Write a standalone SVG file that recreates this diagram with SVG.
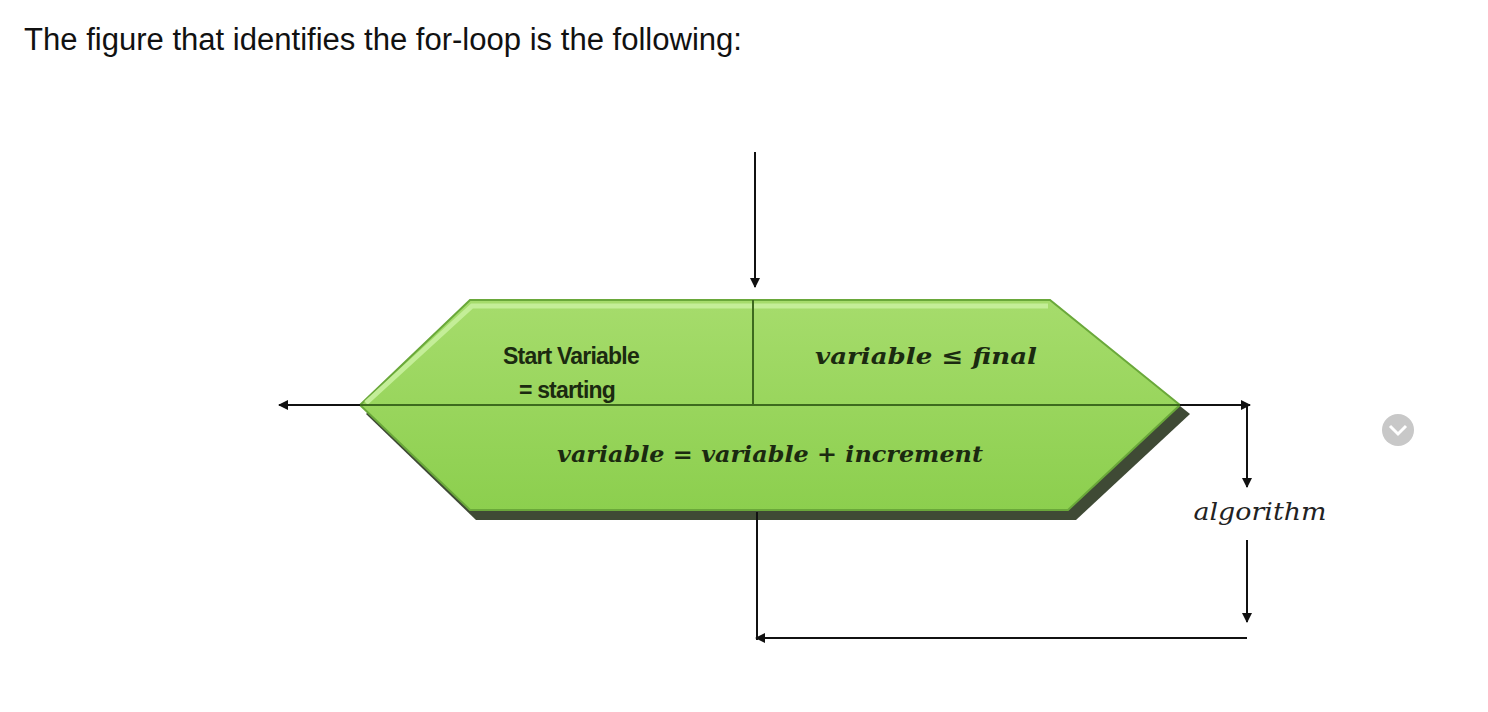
<svg xmlns="http://www.w3.org/2000/svg" width="1488" height="712" viewBox="0 0 1488 712">
<style>
.ln{stroke:#111;stroke-width:2;fill:none}
.m{font-family:"DejaVu Serif","Liberation Serif",serif;font-style:italic;font-weight:bold;font-size:23px;fill:#1b2a10}
.s{font-family:"Liberation Sans",Arial,sans-serif;font-weight:bold;font-size:23px;fill:#1b2a10;letter-spacing:-0.8px}
</style>
<defs>
<marker id="a" viewBox="0 0 10 10" refX="9" refY="5" markerWidth="5" markerHeight="5" orient="auto"><path d="M0,0L10,5L0,10z" fill="#111"/></marker>
<linearGradient id="g" x1="0" y1="0" x2="0" y2="1"><stop offset="0" stop-color="#a6dc6c"/><stop offset="1" stop-color="#8ccf4e"/></linearGradient>
</defs>
<rect width="1488" height="712" fill="#fff"/>
<text x="24" y="50" font-family="Liberation Sans,Arial,sans-serif" font-size="31" fill="#111" textLength="718" lengthAdjust="spacingAndGlyphs">The figure that identifies the for-loop is the following:</text>
<g id="node">
<polygon points="366,414 476,310 1060,310 1190,414 1076,520 476,520" fill="#1d2a12" opacity="0.85"/>
<polygon points="360,405 470,300 1050,300 1180,405 1068,510 470,510" fill="url(#g)" stroke="#6aa83a" stroke-width="2"/>
<polyline points="366,403 472,306 1048,306" fill="none" stroke="#c4ee98" stroke-width="5"/>
<line x1="753" y1="300" x2="753" y2="405" stroke="#3d6a1e" stroke-width="2"/>
<line x1="360" y1="405" x2="1180" y2="405" stroke="#3d6a1e" stroke-width="2"/>
<text x="571" y="364" text-anchor="middle" class="s">Start Variable</text>
<text x="567" y="398" text-anchor="middle" class="s">= starting</text>
<text x="926" y="364" text-anchor="middle" class="m" textLength="222" lengthAdjust="spacingAndGlyphs">variable ≤ final</text>
<text x="770" y="462" text-anchor="middle" class="m" textLength="426" lengthAdjust="spacingAndGlyphs">variable = variable + increment</text>
</g>
<g id="connectors">
<line class="ln" x1="755" y1="152" x2="755" y2="287" marker-end="url(#a)"/>
<line class="ln" x1="360" y1="405" x2="279" y2="405" marker-end="url(#a)"/>
<line class="ln" x1="1180" y1="405" x2="1250" y2="405" marker-end="url(#a)"/>
<line class="ln" x1="1247" y1="405" x2="1247" y2="487" marker-end="url(#a)"/>
<line class="ln" x1="1247" y1="540" x2="1247" y2="622" marker-end="url(#a)"/>
<line class="ln" x1="1247" y1="638" x2="756" y2="638" marker-end="url(#a)"/>
<line class="ln" x1="757" y1="512" x2="757" y2="640"/>
</g>
<text x="1260" y="520" text-anchor="middle" font-family="DejaVu Serif,Liberation Serif,serif" font-style="italic" font-size="25" fill="#222" textLength="133" lengthAdjust="spacingAndGlyphs">algorithm</text>
<g id="icon">
<circle cx="1398" cy="430" r="16" fill="#c8c8c8"/>
<polyline points="1390,426 1398,434 1406,426" fill="none" stroke="#fff" stroke-width="3"/>
</g>
</svg>
